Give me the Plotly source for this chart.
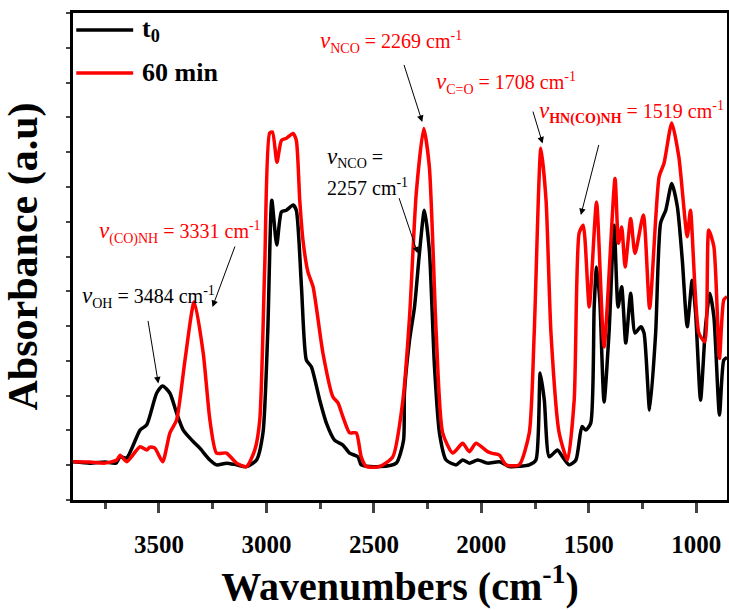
import plotly.graph_objects as go

# ---- data ----
t0_wn = [3900, 3820, 3751, 3700, 3681, 3650, 3588, 3557, 3511, 3483, 3449, 3418, 3387, 3341, 3310,
         3263, 3232, 3186, 3139, 3093, 3046, 3016, 2994, 2975, 2952, 2930, 2907, 2876, 2861, 2837,
         2814, 2791, 2752, 2721, 2683, 2644, 2613, 2574, 2559, 2474, 2396, 2362, 2358, 2334, 2311,
         2288, 2265, 2242, 2218, 2195, 2164, 2117, 2087, 2056, 2017, 1971, 1916, 1870, 1777, 1746,
         1726, 1707, 1684, 1646, 1622, 1591, 1560, 1532, 1514, 1491, 1475, 1464, 1449, 1429, 1406,
         1382, 1364, 1347, 1328, 1305, 1285, 1258, 1243, 1217, 1189, 1166, 1142, 1114, 1088, 1065,
         1042, 1019, 1003, 980, 957, 937, 918, 892, 872, 857]
t0_abs = [0.110, 0.106, 0.109, 0.106, 0.124, 0.121, 0.201, 0.216, 0.307, 0.328, 0.307, 0.250, 0.201, 0.168, 0.149,
          0.115, 0.101, 0.106, 0.101, 0.096, 0.115, 0.193, 0.480, 0.862, 0.733, 0.828, 0.833, 0.848, 0.833, 0.613,
          0.402, 0.383, 0.287, 0.221, 0.172, 0.158, 0.135, 0.124, 0.101, 0.096, 0.106, 0.172, 0.307, 0.460, 0.555,
          0.710, 0.833, 0.718, 0.383, 0.193, 0.115, 0.101, 0.115, 0.106, 0.115, 0.106, 0.110, 0.096, 0.101, 0.115,
          0.365, 0.287, 0.124, 0.144, 0.124, 0.101, 0.115, 0.211, 0.201, 0.221, 0.555, 0.670, 0.575, 0.282, 0.480,
          0.790, 0.555, 0.613, 0.451, 0.594, 0.480, 0.498, 0.480, 0.259, 0.480, 0.796, 0.833, 0.910, 0.843, 0.690,
          0.498, 0.632, 0.537, 0.287, 0.498, 0.594, 0.527, 0.244, 0.402, 0.410]

min60_wn = [3900, 3820, 3751, 3696, 3681, 3650, 3588, 3557, 3542, 3519, 3483, 3449, 3418, 3379, 3336,
            3294, 3263, 3232, 3186, 3139, 3093, 3054, 3031, 3008, 2985, 2972, 2951, 2930, 2907, 2876,
            2861, 2845, 2830, 2807, 2783, 2737, 2691, 2667, 2644, 2613, 2582, 2559, 2535, 2474, 2412,
            2365, 2334, 2303, 2268, 2242, 2210, 2180, 2133, 2087, 2056, 2025, 1971, 1948, 1916, 1885,
            1824, 1777, 1754, 1723, 1699, 1676, 1638, 1599, 1568, 1545, 1526, 1498, 1464, 1429, 1378,
            1362, 1347, 1331, 1305, 1285, 1246, 1217, 1173, 1150, 1114, 1081, 1042, 1027, 988, 960,
            942, 918, 892, 872, 857]
min60_abs = [0.110, 0.109, 0.106, 0.115, 0.129, 0.110, 0.153, 0.144, 0.152, 0.149, 0.110, 0.193, 0.230, 0.402, 0.570,
             0.422, 0.230, 0.135, 0.135, 0.106, 0.096, 0.144, 0.230, 0.670, 1.055, 1.058, 0.971, 1.034, 1.040, 1.054,
             1.034, 0.862, 0.747, 0.656, 0.613, 0.422, 0.297, 0.279, 0.239, 0.193, 0.193, 0.124, 0.096, 0.096, 0.124,
             0.287, 0.527, 0.881, 1.068, 0.958, 0.480, 0.193, 0.135, 0.163, 0.139, 0.163, 0.139, 0.134, 0.129, 0.101,
             0.101, 0.193, 0.480, 1.011, 0.862, 0.480, 0.193, 0.115, 0.287, 0.767, 0.790, 0.555, 0.857, 0.440, 0.924,
             0.738, 0.785, 0.670, 0.809, 0.709, 0.819, 0.551, 0.929, 0.968, 1.084, 0.986, 0.757, 0.833, 0.480, 0.455,
             0.776, 0.728, 0.407, 0.575, 0.585]

series_names = ["t<sub>0</sub>", "60 min"]
series_colors = ["black", "#ff0000"]

x_tick_vals = [3500, 3000, 2500, 2000, 1500, 1000]
x_range = [3900, 857]
y_range = [0, 1.4]

SERIF = "Liberation Serif, Times New Roman, serif"
V = "<i><span style='font-size:23px'>v</span></i>"

fig = go.Figure()
for name, col, xs, ys in zip(series_names, series_colors, [t0_wn, min60_wn], [t0_abs, min60_abs]):
    fig.add_trace(go.Scatter(x=xs, y=ys, mode="lines", name=name, showlegend=False,
                             line=dict(color=col, width=3.5, shape="spline", smoothing=0.6)))

# hand-made legend (longer line samples like the original)
legend_rows = [0.965, 0.877]
for name, col, ly in zip(series_names, series_colors, legend_rows):
    fig.add_shape(type="line", xref="paper", yref="paper", x0=0.005, x1=0.092, y0=ly, y1=ly,
                  line=dict(color=col, width=3.5))
    fig.add_annotation(x=0.103, y=ly, xref="paper", yref="paper", text=name, showarrow=False,
                       xanchor="left", yanchor="middle",
                       font=dict(family=SERIF, size=26, color="black", weight="bold"))

# annotations: (text, text_x, text_y, anchor, color)
texts = [
    (V + "<sub>OH</sub> = 3484 cm<sup>-1</sup>", 3868, 0.583, "left", "black"),
    (V + "<sub>(CO)NH</sub> = 3331 cm<sup>-1</sup>", 3788, 0.770, "left", "#ff0000"),
    (V + "<sub>NCO</sub> = 2269 cm<sup>-1</sup>", 2762, 1.316, "left", "#ff0000"),
    (V + "<sub>NCO</sub> =", 2729, 0.985, "left", "black"),
    ("2257 cm<sup>-1</sup>", 2729, 0.900, "left", "black"),
    (V + "<sub>C=O</sub> = 1708 cm<sup>-1</sup>", 2218, 1.198, "left", "#ff0000"),
    (V + "<sub><b>HN(CO)NH</b></sub> = 1519 cm<sup>-1</sup>", 862, 1.115, "right", "#ff0000"),
]
for txt, tx, ty, anc, col in texts:
    fig.add_annotation(x=tx, y=ty, xref="x", yref="y", text=txt, showarrow=False,
                       xanchor=anc, yanchor="middle", align=anc,
                       font=dict(family=SERIF, size=20, color=col))

# arrows: (tail_x, tail_y, head_x, head_y)
arrows = [
    (3552, 0.519, 3503, 0.335),
    (3144, 0.733, 3251, 0.555),
    (2362, 1.255, 2275, 1.087),
    (2385, 0.872, 2296, 0.709),
    (1762, 1.121, 1715, 1.025),
    (1452, 1.025, 1537, 0.819),
]
for ax_, ay_, hx, hy in arrows:
    fig.add_annotation(x=hx, y=hy, ax=ax_, ay=ay_, xref="x", yref="y", axref="x", ayref="y",
                       text="", showarrow=True, arrowhead=2, arrowsize=1.3, arrowwidth=1,
                       arrowcolor="black", standoff=0, startstandoff=0)

fig.update_layout(
    width=729, height=610,
    margin=dict(l=73, r=2, t=13, b=110, autoexpand=False),
    paper_bgcolor="white", plot_bgcolor="white",
    font=dict(family=SERIF, color="black"),
    showlegend=False,
    xaxis=dict(range=x_range, tickvals=x_tick_vals, ticks="outside", ticklen=10, tickwidth=2.5,
               minor=dict(ticks="outside", ticklen=6, tickwidth=2.5, dtick=250),
               showline=True, linewidth=2.5, linecolor="black", mirror=True,
               showgrid=False, zeroline=False, ticklabelstandoff=10,
               tickfont=dict(family=SERIF, size=25, color="black", weight="bold"),
               title=dict(text="Wavenumbers (cm<sup>-1</sup>)", standoff=2,
                          font=dict(family=SERIF, size=40, color="black", weight="bold"))),
    yaxis=dict(range=y_range, dtick=0.1, ticks="outside", ticklen=4, tickwidth=2,
               showticklabels=False,
               showline=True, linewidth=2.5, linecolor="black", mirror=True,
               showgrid=False, zeroline=False,
               title=dict(text="Absorbance (a.u)", standoff=21,
                          font=dict(family=SERIF, size=42, color="black", weight="bold"))),
)

fig.write_html("out.html", config={"displayModeBar": False},
               post_script="document.body.style.margin='0';")
